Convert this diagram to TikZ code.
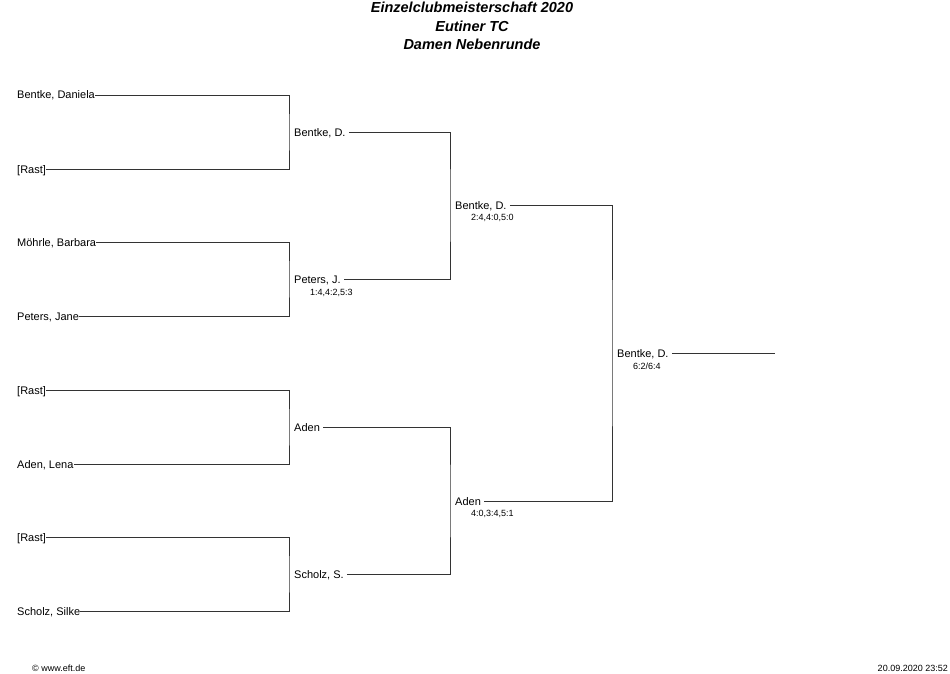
\documentclass[tikz,border=0pt]{standalone}
\usepackage{fontspec}
\setmainfont{Liberation Sans}
\usetikzlibrary{positioning}

\begin{document}
\begin{tikzpicture}[x=1pt, y=-1pt,
        player/.style={anchor=west, inner sep=0pt, text height=8pt, text depth=0pt, font=\fontsize{11}{13}\selectfont},
        score/.style={anchor=west, inner sep=0pt, font=\fontsize{9}{11}\selectfont},
        line/.style={line width=0.9pt, black!80},
        gap/.style={shorten <=3pt, shorten >=3pt}]
        \useasboundingbox (0,0) rectangle (950,674);
        \node[align=center, font=\bfseries\itshape\fontsize{14.5}{18.5}\selectfont] (title) at (472,26) {Einzelclubmeisterschaft 2020\\Eutiner TC\\Damen Nebenrunde};
        % erste Runde
        \node[player] (p1) at (17,95) {Bentke, Daniela};
        \node[player] (p2) at (17,169) {[Rast]};
        \node[player] (p3) at (17,242) {Möhrle, Barbara};
        \node[player] (p4) at (17,316) {Peters, Jane};
        \node[player] (p5) at (17,390) {[Rast]};
        \node[player] (p6) at (17,464) {Aden, Lena};
        \node[player] (p7) at (17,537) {[Rast]};
        \node[player] (p8) at (17,611) {Scholz, Silke};
        \coordinate (c1) at (289,132);
        \coordinate (c2) at (289,279);
        \coordinate (c3) at (289,427);
        \coordinate (c4) at (289,574);
        \draw[line] (p1.east) -| (c1) |- (p2.east);
        \draw[line] (p3.east) -| (c2) |- (p4.east);
        \draw[line] (p5.east) -| (c3) |- (p6.east);
        \draw[line] (p7.east) -| (c4) |- (p8.east);
        % zweite Runde
        \node[player] (q1) at (294,132) {Bentke, D.};
        \node[player] (q2) at (294,279) {Peters, J.};
        \node[score] (sq2) at ([shift={(16,14)}]q2.west) {1:4,4:2,5:3};
        \node[player] (q3) at (294,427) {Aden};
        \node[player] (q4) at (294,574) {Scholz, S.};
        \coordinate (c5) at (450,205);
        \coordinate (c6) at (450,501);
        \draw[line, gap] (q1.east) -| (c5) |- (q2.east);
        \draw[line, gap] (q3.east) -| (c6) |- (q4.east);
        % Halbfinale
        \node[player] (h1) at (455,205) {Bentke, D.};
        \node[score] (sh1) at ([shift={(16,13)}]h1.west) {2:4,4:0,5:0};
        \node[player] (h2) at (455,501) {Aden};
        \node[score] (sh2) at ([shift={(16,13)}]h2.west) {4:0,3:4,5:1};
        \coordinate (c7) at (612,353);
        \draw[line, gap] (h1.east) -| (c7) |- (h2.east);
        % Sieger
        \node[player] (win) at (617,353) {Bentke, D.};
        \node[score] (swin) at ([shift={(16,13)}]win.west) {6:2/6:4};
        \coordinate (end) at (775,353);
        \draw[line, shorten <=3pt] (win.east) -- (end);
        \node[score] (copy) at (32,668) {© www.eft.de};
        \node[score, anchor=east] (date) at (948,668) {20.09.2020 23:52};
    \end{tikzpicture}
\end{document}
